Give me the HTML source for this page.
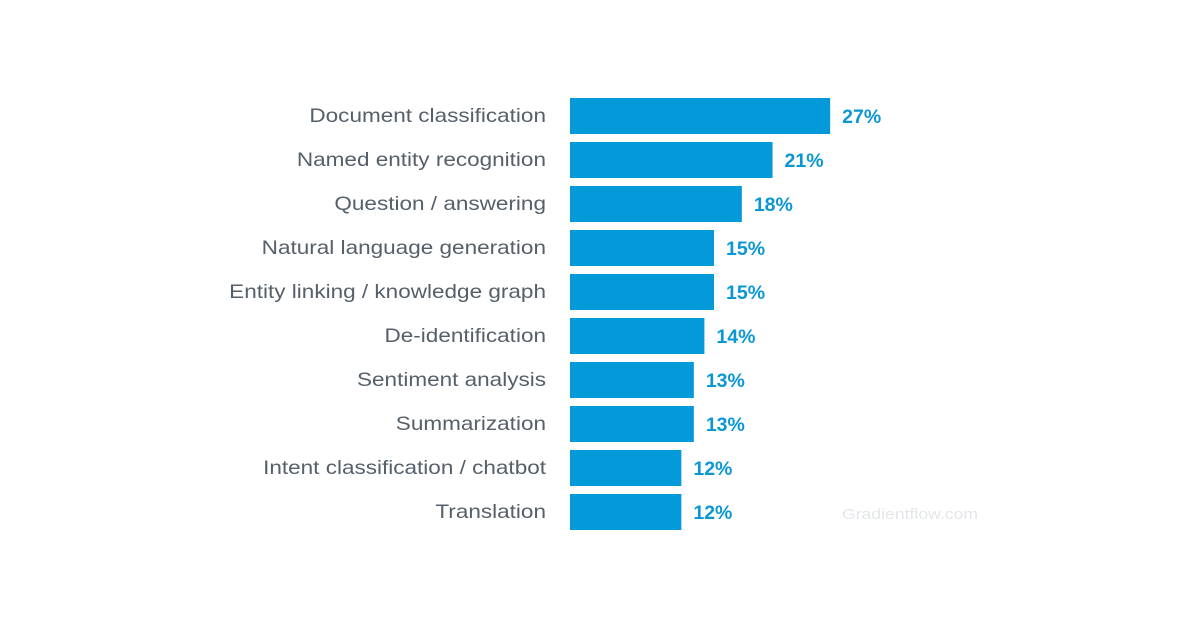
<!DOCTYPE html>
<html><head><meta charset="utf-8"><style>
body{margin:0;background:#fff;}
svg{display:block;font-family:"Liberation Sans",sans-serif;}
</style></head><body>
<svg id="chart" width="1200" height="628"></svg>
<script>
const categories=["Document classification","Named entity recognition","Question / answering","Natural language generation","Entity linking / knowledge graph","De-identification","Sentiment analysis","Summarization","Intent classification / chatbot","Translation"];
const values=[27.1,21.1,17.9,15,15,14,12.9,12.9,11.6,11.6];
const valueLabels=["27%","21%","18%","15%","15%","14%","13%","13%","12%","12%"];
const svg=document.getElementById('chart');
const NS='http://www.w3.org/2000/svg';
const x0=570,scale=9.6,y0=98,step=44,bh=36;
const xS=v=>v*scale;
const yS=i=>y0+i*step;
categories.forEach((c,i)=>{
  const y=yS(i),w=xS(values[i]);
  const r=document.createElementNS(NS,'rect');
  r.setAttribute('x',x0);r.setAttribute('y',y);r.setAttribute('width',w);r.setAttribute('height',bh);r.setAttribute('fill','#049ad9');
  
  
  svg.appendChild(r);
  const t=document.createElementNS(NS,'text');
  t.setAttribute('x',546);t.setAttribute('y',y+bh/2+6);t.setAttribute('text-anchor','end');
  t.setAttribute('font-size','19.5');t.setAttribute('fill','#56606a');t.textContent=c;
  
  
  svg.appendChild(t);
  const L=t.getComputedTextLength();
  if(L>0){t.setAttribute('textLength',(L*1.155).toFixed(1));t.setAttribute('lengthAdjust','spacingAndGlyphs');}
  const v=document.createElementNS(NS,'text');
  v.setAttribute('x',x0+w+12);v.setAttribute('y',y+bh/2+7);
  v.setAttribute('font-size','19.5');v.setAttribute('font-weight','bold');v.setAttribute('fill','#0a97d3');v.textContent=valueLabels[i];
  
  
  svg.appendChild(v);
});
const wm=document.createElementNS(NS,'text');
wm.setAttribute('x',842);wm.setAttribute('y',519);wm.setAttribute('font-size','15');wm.setAttribute('fill','#e3e6e8');wm.textContent='Gradientflow.com';
wm.setAttribute('textLength','136');wm.setAttribute('lengthAdjust','spacingAndGlyphs');


svg.appendChild(wm);
</script>
</body></html>
